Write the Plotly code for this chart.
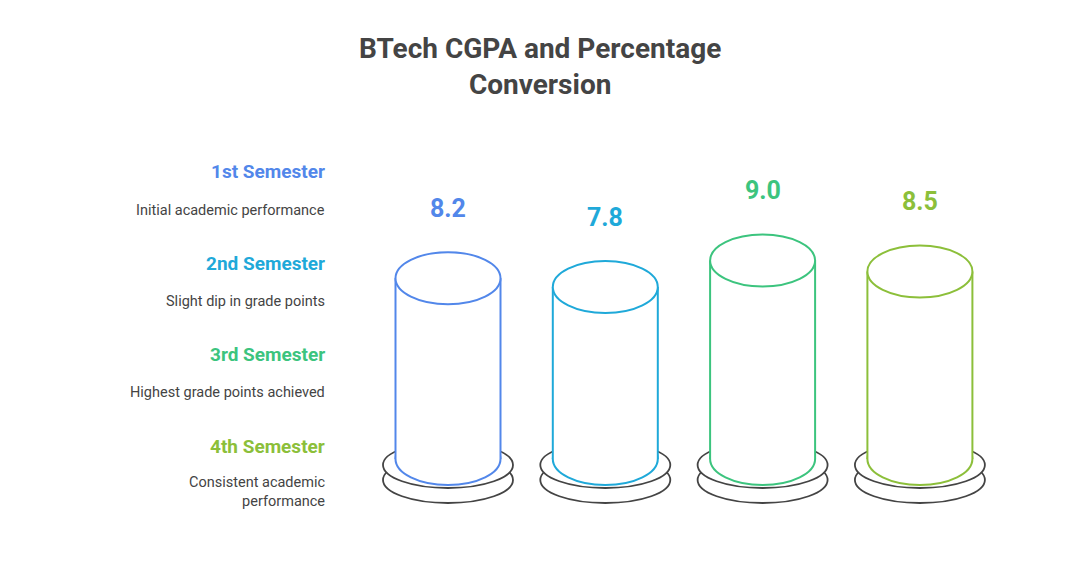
import plotly.graph_objects as go

# data
semesters = ['1st Semester', '2nd Semester', '3rd Semester', '4th Semester']
notes = ['Initial academic performance', 'Slight dip in grade points',
         'Highest grade points achieved', 'Consistent academic<br>performance']
cgpa = [8.2, 7.8, 9.0, 8.5]
colors = ['#5287EA', '#1FA9D9', '#3CC47E', '#8CBF3A']

W, H = 1080, 565
OFF = 8  # page body margin
# axis scales (pixels per unit)
KX, KY = 157.3, 22.05
x0_px, y0_px = 448 - OFF, 459 - OFF  # pixel of x=0, y=0
xr = [-x0_px / KX, (W - x0_px) / KX]
yr = [-(H - y0_px) / KY, y0_px / KY]

rx_cyl = 52.5 / KX
ry_cyl = 26 / KY
rx_disk = 65 / KX
ry_disk = 23 / KY

fig = go.Figure()
# invisible trace to set the axes
fig.add_trace(go.Scatter(x=list(range(len(cgpa))), y=cgpa, mode='markers',
                         marker=dict(opacity=0), hoverinfo='skip', showlegend=False))

shapes = []
disk_line = dict(color='#444444', width=1.8)
for i, v in enumerate(cgpa):
    c = colors[i]
    line = dict(color=c, width=2)
    # base disk (two stacked)
    for dy in (-21 / KY, -6 / KY):
        shapes.append(dict(type='circle', xref='x', yref='y', x0=i - rx_disk, x1=i + rx_disk,
                           y0=dy - ry_disk, y1=dy + ry_disk, fillcolor='white', line=disk_line))
    # cylinder bottom
    shapes.append(dict(type='circle', xref='x', yref='y', x0=i - rx_cyl, x1=i + rx_cyl,
                       y0=-ry_cyl, y1=ry_cyl, fillcolor='white', line=line))
    # body
    shapes.append(dict(type='rect', xref='x', yref='y', x0=i - rx_cyl, x1=i + rx_cyl,
                       y0=0, y1=v, fillcolor='white', line=dict(width=0)))
    for sx in (i - rx_cyl, i + rx_cyl):
        shapes.append(dict(type='line', xref='x', yref='y', x0=sx, x1=sx, y0=0, y1=v, line=line))
    # top
    shapes.append(dict(type='circle', xref='x', yref='y', x0=i - rx_cyl, x1=i + rx_cyl,
                       y0=v - ry_cyl, y1=v + ry_cyl, fillcolor='white', line=line))

annotations = []
for i, v in enumerate(cgpa):
    annotations.append(dict(x=i, y=v + 70 / KY, xref='x', yref='y', text='<b>%.1f</b>' % v,
                            yanchor='middle', showarrow=False,
                            font=dict(size=25, color=colors[i])))

head_y = [171, 263, 354, 446]
note_y = [210, 301, 393, 492]
for i in range(len(semesters)):
    annotations.append(dict(x=(327 - OFF) / W, y=1 - (head_y[i] - OFF) / H, xref='paper', yref='paper',
                            xanchor='right', yanchor='middle', text='<b>%s</b>' % semesters[i],
                            showarrow=False, font=dict(size=19, color=colors[i])))
    annotations.append(dict(x=(327 - OFF) / W, y=1 - (note_y[i] - OFF) / H, xref='paper', yref='paper',
                            xanchor='right', yanchor='middle', align='right', text=notes[i],
                            showarrow=False, font=dict(size=14.5, color='#444444')))

annotations.append(dict(x=(540 - OFF) / W, y=1 - (66 - OFF) / H, xref='paper', yref='paper',
                        yanchor='middle', text='<b>BTech CGPA and Percentage<br>Conversion</b>',
                        showarrow=False, font=dict(size=28, color='#444444')))

fig.update_layout(width=W, height=H, margin=dict(l=0, r=0, t=0, b=0),
                  plot_bgcolor='white', paper_bgcolor='white',
                  font=dict(family='Roboto'),
                  xaxis=dict(range=xr, visible=False, fixedrange=True),
                  yaxis=dict(range=yr, visible=False, fixedrange=True),
                  shapes=shapes, annotations=annotations)

fig.write_html("out.html")
